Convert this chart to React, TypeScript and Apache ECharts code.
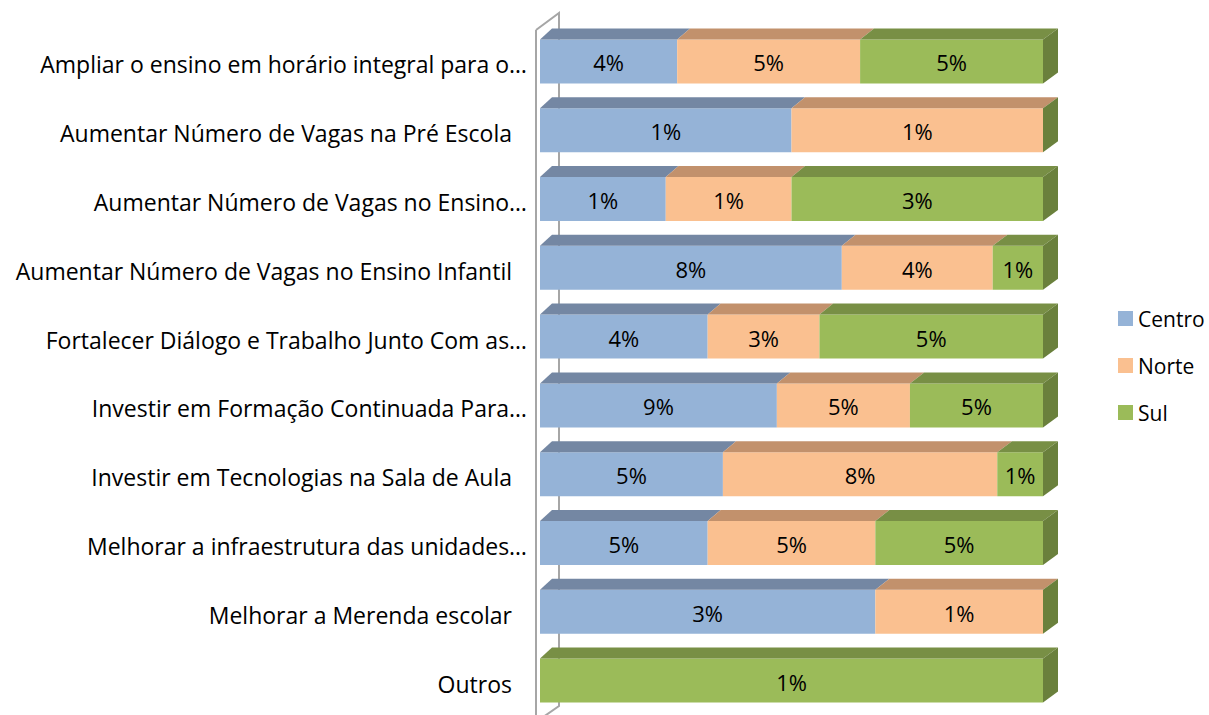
import React, { useEffect, useRef } from "react";
import * as echarts from "echarts";

const categories = [
  "Ampliar o ensino em horário integral para o…",
  "Aumentar Número de Vagas na Pré Escola ",
  "Aumentar Número de Vagas no Ensino…",
  "Aumentar Número de Vagas no Ensino Infantil ",
  "Fortalecer Diálogo e Trabalho Junto Com as…",
  "Investir em Formação Continuada Para…",
  "Investir em Tecnologias na Sala de Aula ",
  "Melhorar a infraestrutura das unidades…",
  "Melhorar a Merenda escolar ",
  "Outros ",
];
const seriesNames = ["Centro", "Norte", "Sul"];
const centro = [3.6, 1.0, 1.3, 8.1, 3.9, 8.9, 5.2, 5.0, 2.6, 0];
const norte = [4.8, 1.0, 1.3, 4.05, 2.6, 5.0, 7.8, 5.0, 1.3, 0];
const sul = [4.8, 0, 2.6, 1.35, 5.2, 5.0, 1.3, 5.0, 0, 1.3];

const frontColors = ["#95B3D7", "#FAC090", "#9BBB59"];
const topColors = ["#7487A3", "#C2916C", "#788F45"];
const sideColor = "#6A803C";
const FONT = "Open Sans";
const FS = 23;
const FS_BAR = 22;
const FS_LEG = 21;

const raw = [centro, norte, sul];
const totals = categories.map((_, i) => centro[i] + norte[i] + sul[i]);
const pct = raw.map((arr) => arr.map((v, i) => (v / totals[i]) * 100));

export default function App() {
  const ref = useRef<HTMLDivElement>(null);
  useEffect(() => {
    document.body.style.margin = "0";
    const chart = echarts.init(ref.current!, null, { renderer: "svg" });
    const BAR_H = 44;
    const DY = 11;
    const option: any = {
      animation: false,
      backgroundColor: "#fff",
      textStyle: { fontFamily: FONT },
      grid: { left: 540, width: 503, top: 27, height: 690.6 },
      xAxis: { type: "value", min: 0, max: 100, show: false },
      yAxis: {
        type: "category",
        inverse: true,
        data: categories,
        axisLine: { show: false },
        axisTick: { show: false },
        axisLabel: {
          fontSize: FS,
          color: "#000",
          fontFamily: FONT,
          margin: 13,
          formatter: (v: string) =>
            v.endsWith(" ") ? `{p|${v.trim()}}` : `{n|${v}}`,
          rich: {
            p: { fontSize: FS, color: "#000", fontFamily: FONT, padding: [6, 15, 0, 0] },
            n: { fontSize: FS, color: "#000", fontFamily: FONT, padding: [6, 0, 0, 0] },
          },
        },
      },
      legend: {
        orient: "vertical",
        left: 1113,
        top: 303,
        itemWidth: 15,
        itemHeight: 15,
        itemGap: 26,
        icon: "rect",
        data: seriesNames,
        textStyle: { fontSize: FS_LEG, color: "#000", fontFamily: FONT },
      },
      graphic: [
        {
          type: "polyline",
          z: -10,
          shape: { points: [[536, 30], [559, 13], [559, 706], [536, 722]] },
          style: { stroke: "#A6A6A6", lineWidth: 2, fill: "none" },
        },
        {
          type: "line",
          z: -10,
          shape: { x1: 536, y1: 30, x2: 536, y2: 720 },
          style: { stroke: "#A6A6A6", lineWidth: 2 },
        },
      ],
      series: [
        ...seriesNames.map((name, s) => ({
          name,
          type: "bar",
          stack: "total",
          barWidth: BAR_H,
          itemStyle: { color: frontColors[s] },
          label: {
            show: true,
            position: "inside",
            color: "#000",
            fontSize: FS_BAR,
            fontFamily: FONT,
            offset: [0, 1],
            formatter: (p: any) => {
              const v = raw[s][p.dataIndex];
              return v > 0 ? Math.round(v) + "%" : "";
            },
          },
          data: pct[s].map((v) => (v > 0 ? v : 0)),
        })),
        {
          type: "custom",
          silent: true,
          z: 3,
          data: categories.map((_, i) => [i]),
          renderItem: (params: any, api: any) => {
            const i = api.value(0);
            const children: any[] = [];
            let cum = 0;
            const x0 = api.coord([0, i])[0];
            const xFull = api.coord([100, i])[0];
            const yc = api.coord([0, i])[1];
            const yTop = yc - BAR_H / 2;
            const yBot = yc + BAR_H / 2;
            const dxAt = (x: number) => 12 + (3 * (x - x0)) / (xFull - x0);
            for (let s = 0; s < 3; s++) {
              const v = pct[s][i];
              if (v <= 0) continue;
              const xa = api.coord([cum, i])[0];
              const xb = api.coord([cum + v, i])[0];
              cum += v;
              children.push({
                type: "polygon",
                shape: {
                  points: [
                    [xa, yTop],
                    [xb, yTop],
                    [xb + dxAt(xb), yTop - DY],
                    [xa + dxAt(xa), yTop - DY],
                  ],
                },
                style: { fill: topColors[s] },
              });
            }
            const dxe = dxAt(xFull);
            children.push({
              type: "polygon",
              shape: {
                points: [
                  [xFull, yTop],
                  [xFull + dxe, yTop - DY],
                  [xFull + dxe, yBot - DY],
                  [xFull, yBot],
                ],
              },
              style: { fill: sideColor },
            });
            return { type: "group", children };
          },
        },
      ],
    };
    chart.setOption(option);
    return () => chart.dispose();
  }, []);
  return (
    <div
      ref={ref}
      style={{ position: "fixed", left: 0, top: 0, width: 1209, height: 715 }}
    />
  );
}
